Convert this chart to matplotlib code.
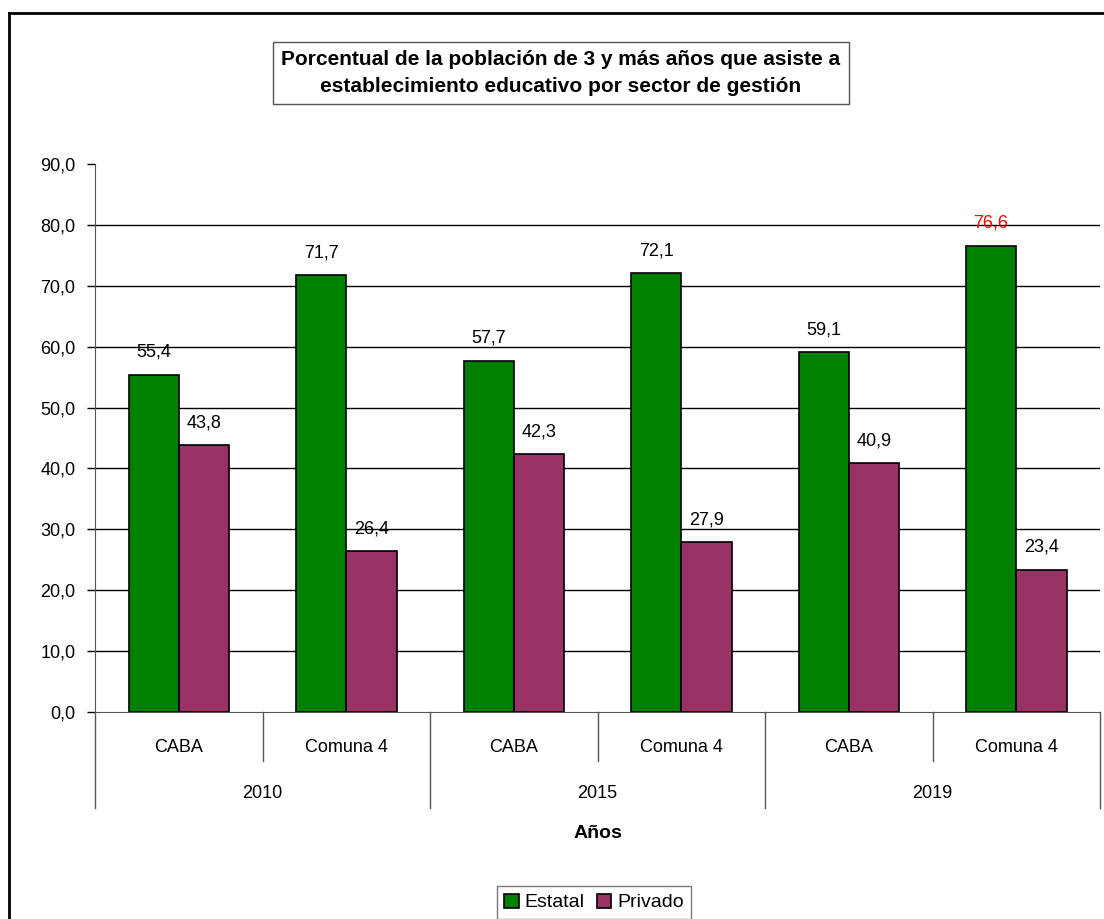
import matplotlib.pyplot as plt
from matplotlib.lines import Line2D
import numpy as np

plt.rcParams['font.family'] = ['Liberation Sans', 'DejaVu Sans']

# datos
years = ['2010', '2015', '2019']
areas = ['CABA', 'Comuna 4', 'CABA', 'Comuna 4', 'CABA', 'Comuna 4']
estatal = [55.4, 71.7, 57.7, 72.1, 59.1, 76.6]
privado = [43.8, 26.4, 42.3, 27.9, 40.9, 23.4]
yticks = [0, 10, 20, 30, 40, 50, 60, 70, 80, 90]

verde = '#008000'
violeta = '#993366'

W, H = 1104, 919
fig = plt.figure(figsize=(W / 100, H / 100), dpi=100)
ax = fig.add_axes([95 / W, 1 - 712 / H, (1100 - 95) / W, (712 - 164) / H])

x = np.arange(len(areas))
bw = 0.3
b1 = ax.bar(x - bw / 2, estatal, bw, color=verde, edgecolor='black', linewidth=1.2, label='Estatal', zorder=3)
b2 = ax.bar(x + bw / 2, privado, bw, color=violeta, edgecolor='black', linewidth=1.2, label='Privado', zorder=3)

# etiquetas de valores
for i, v in enumerate(estatal):
    col = 'red' if v == max(estatal) else 'black'
    ax.annotate(f'{v:.1f}'.replace('.', ','), (x[i] - bw / 2, v), xytext=(0, 10),
                textcoords='offset points', ha='center', va='bottom', fontsize=13, color=col)
for i, v in enumerate(privado):
    ax.annotate(f'{v:.1f}'.replace('.', ','), (x[i] + bw / 2, v), xytext=(0, 10),
                textcoords='offset points', ha='center', va='bottom', fontsize=13)

ax.set_xlim(-0.5, len(areas) - 0.5)
ax.set_ylim(0, 90)
ax.set_yticks(yticks)
ax.set_yticklabels([f'{t:.1f}'.replace('.', ',') for t in yticks], fontsize=13)
ax.tick_params(axis='y', length=6, width=1, pad=8)
ax.set_xticks([])
for t in yticks[1:-1]:
    ax.axhline(t, color='black', linewidth=1, zorder=1)

for s in ['top', 'right']:
    ax.spines[s].set_visible(False)
ax.spines['left'].set_color('#555555')
ax.spines['bottom'].set_color('#555555')

# eje x jerarquico
px = 1 / (712 - 164)  # un pixel en coordenadas de ejes (vertical)
tr = ax.get_xaxis_transform()
for i, a in enumerate(areas):
    ax.text(x[i], -35 * px, a, transform=tr, ha='center', va='center', fontsize=13)
for j, yr in enumerate(years):
    ax.text(2 * j + 0.5, -81 * px, yr, transform=tr, ha='center', va='center', fontsize=13)
for j in range(len(years)):
    ax.plot([2 * j + 0.5] * 2, [0, -49 * px], transform=tr, color='#555555', lw=1, clip_on=False)
for j in range(len(years) + 1):
    ax.plot([2 * j - 0.5] * 2, [0, -96 * px], transform=tr, color='#555555', lw=1, clip_on=False)

fig.text(598 / W, 1 - 833 / H, 'Años', ha='center', va='center',
         fontsize=14, fontweight='bold')

# titulo
fig.text(561 / W, 1 - 73 / H,
         'Porcentual de la población de 3 y más años que asiste a\nestablecimiento educativo por sector de gestión',
         ha='center', va='center', fontsize=15, fontweight='bold', linespacing=1.5,
         bbox=dict(boxstyle='square,pad=0.4', facecolor='white', edgecolor='#555555', linewidth=1))

# leyenda
leg = fig.legend(handles=[b1, b2], loc='upper center', bbox_to_anchor=(594 / W, 1 - 876 / H),
                 ncol=2, fontsize=14, frameon=True, fancybox=False, handlelength=0.75,
                 handleheight=0.75, handletextpad=0.3, columnspacing=0.6, borderpad=0.4)
leg.get_frame().set_edgecolor('#555555')
leg.get_frame().set_linewidth(1)

# borde del grafico
fig.add_artist(Line2D([9 / W, 9 / W], [0, 1 - 13 / H], color='black', lw=2))
fig.add_artist(Line2D([9 / W, 1], [1 - 13 / H, 1 - 13 / H], color='black', lw=2))

fig.savefig('out.png', dpi=100)
